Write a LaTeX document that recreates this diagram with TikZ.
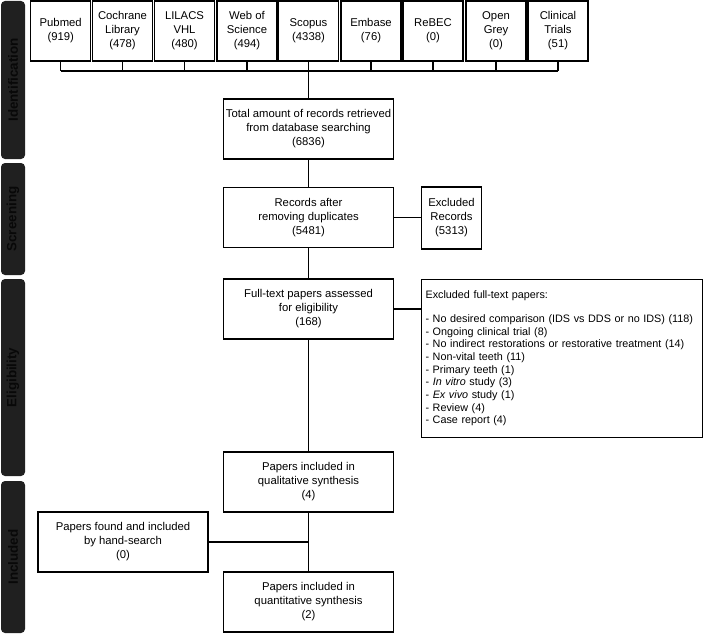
\documentclass[tikz,border=0pt]{standalone}
\usepackage{fontspec}
\setmainfont{Liberation Sans}
\definecolor{stagegray}{RGB}{32,32,32}
\definecolor{stagetext}{RGB}{8,8,8}

\begin{document}
\begin{tikzpicture}[x=1pt,y=-1pt,
  src/.style={draw,line width=1.1pt,align=center,minimum width=60pt,minimum height=60pt,inner sep=0pt,font=\fontsize{11.3}{14}\selectfont},
  box/.style={draw,line width=1.1pt,align=center,minimum width=170pt,minimum height=60pt,inner sep=0pt,font=\fontsize{11.3}{14}\selectfont},
  exlist/.style={draw,line width=1.1pt,align=left,text width=273pt,minimum height=158pt,inner xsep=4pt,inner ysep=0pt,font=\fontsize{10.8}{12.7}\selectfont},
  stage/.style={fill=stagegray,rounded corners=4pt,rotate=90,minimum height=24pt,inner sep=0pt,text=stagetext,font=\fontsize{13.4}{15}\selectfont\bfseries},
  link/.style={line width=1.1pt}]
  \useasboundingbox (0,0) rectangle (709,634);

  \node[stage,minimum width=158pt] (ident) at (13,80) {Identification};
  \node[stage,minimum width=112pt] (screen) at (13,219) {Screening};
  \node[stage,minimum width=197pt] (elig) at (13,377.5) {Eligibility};
  \node[stage,minimum width=152pt] (incl) at (13,557) {Included};

  \node[src] (pubmed) at (60.7,31) {Pubmed\\(919)};
  \node[src] (cochrane) at (122.5,31) {Cochrane\\Library\\(478)};
  \node[src] (lilacs) at (184.5,31) {LILACS\\VHL\\(480)};
  \node[src] (wos) at (247,31) {Web of\\Science\\(494)};
  \node[src] (scopus) at (308.5,31) {Scopus\\(4338)};
  \node[src] (embase) at (371,31) {Embase\\(76)};
  \node[src] (rebec) at (433,31) {ReBEC\\(0)};
  \node[src] (opengrey) at (496,31) {Open\\Grey\\(0)};
  \node[src] (clinical) at (558,31) {Clinical\\Trials\\(51)};

  \node[box] (total) at (308.5,129) {Total amount of records retrieved\\from database searching\\(6836)};
  \node[box] (records) at (308.5,217.5) {Records after\\removing duplicates\\(5481)};
  \node[src,minimum height=62pt] (exrec) at (451.5,218) {Excluded\\Records\\(5313)};
  \node[box] (fulltext) at (308.5,309) {Full-text papers assessed\\for eligibility\\(168)};
  \node[exlist,anchor=north west] (exfull) at (421,279) {Excluded full-text papers:\\[11pt]
    - No desired comparison (IDS vs DDS or no IDS) (118)\\
    - Ongoing clinical trial (8)\\
    - No indirect restorations or restorative treatment (14)\\
    - Non-vital teeth (11)\\
    - Primary teeth (1)\\
    - \textit{In vitro} study (3)\\
    - \textit{Ex vivo} study (1)\\
    - Review (4)\\
    - Case report (4)};
  \node[box] (qual) at (308.5,482) {Papers included in\\qualitative synthesis\\(4)};
  \node[box] (hand) at (123,542) {Papers found and included\\by hand-search\\(0)};
  \node[box] (quant) at (308.5,602) {Papers included in\\quantitative synthesis\\(2)};

  \coordinate (join) at (308.5,71);
  \draw[link] (pubmed.south) -- (pubmed.south |- join);
  \draw[link] (cochrane.south) -- (cochrane.south |- join);
  \draw[link] (lilacs.south) -- (lilacs.south |- join);
  \draw[link] (wos.south) -- (wos.south |- join);
  \draw[link] (scopus.south) -- (join);
  \draw[link] (embase.south) -- (embase.south |- join);
  \draw[link] (rebec.south) -- (rebec.south |- join);
  \draw[link] (opengrey.south) -- (opengrey.south |- join);
  \draw[link] (clinical.south) -- (clinical.south |- join);
  \draw[link] (pubmed.south |- join) -- (clinical.south |- join);
  \draw[link] (join) -- (total.north);

  \draw[link] (total.south) -- (records.north);
  \draw[link] (records.east) -- (records.east -| exrec.west);
  \draw[link] (records.south) -- (fulltext.north);
  \draw[link] (fulltext.east) -- (fulltext.east -| exfull.west);
  \draw[link] (fulltext.south) -- (qual.north);
  \draw[link] (qual.south) -- (quant.north);
  \draw[link] (hand.east) -- (hand.east -| qual.south);
\end{tikzpicture}
\end{document}
